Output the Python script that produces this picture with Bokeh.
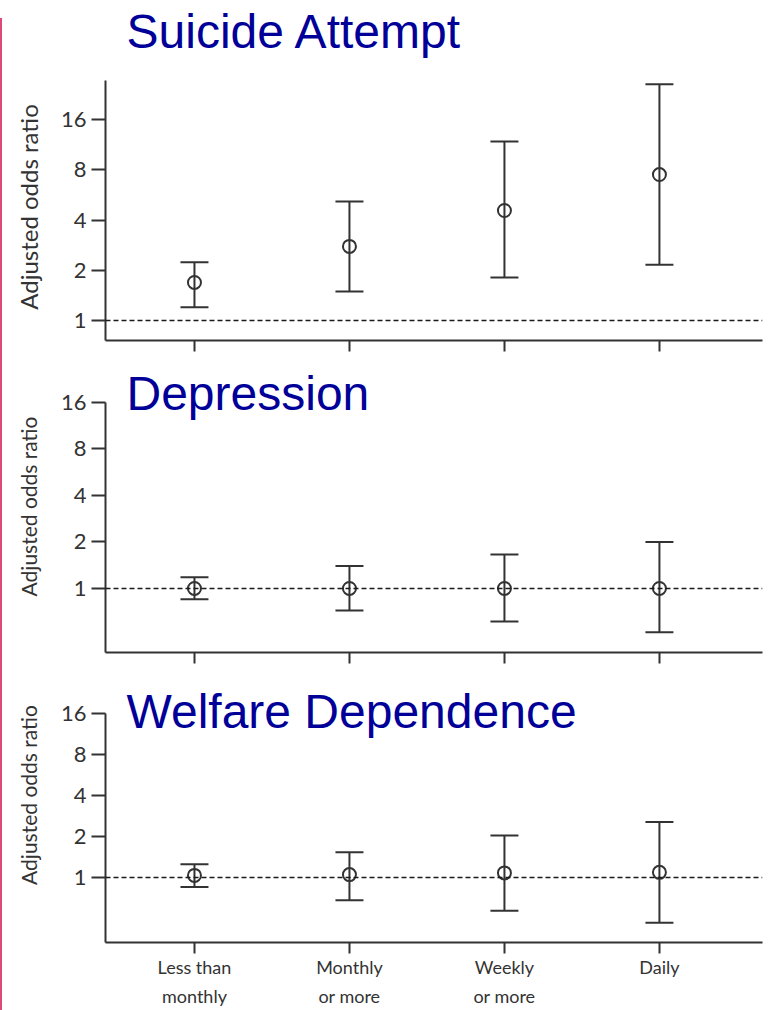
from bokeh.plotting import figure
from bokeh.models import Range1d, FixedTicker, NumeralTickFormatter, Span, Label, Div
from bokeh.layouts import column, row
from bokeh.embed import file_html
from bokeh.resources import INLINE

# ---- data ----
categories = ["Less than\nmonthly", "Monthly\nor more", "Weekly\nor more", "Daily"]
y_ticks = [1, 2, 4, 8, 16]
titles = ["Suicide Attempt", "Depression", "Welfare Dependence"]
y_label = "Adjusted odds ratio"

suicide_or = [1.69, 2.78, 4.56, 7.49]
suicide_lo = [1.20, 1.49, 1.81, 2.16]
suicide_hi = [2.23, 5.16, 11.8, 26.0]

depression_or = [1.0, 1.0, 1.0, 1.0]
depression_lo = [0.85, 0.72, 0.61, 0.52]
depression_hi = [1.18, 1.40, 1.66, 2.0]

welfare_or = [1.035, 1.05, 1.08, 1.09]
welfare_lo = [0.85, 0.68, 0.57, 0.465]
welfare_hi = [1.25, 1.53, 2.03, 2.55]

INK = "#333333"
LABEL_W = 45


def make_label_strip(height, y_center, size):
    s = figure(width=LABEL_W, height=height, x_range=Range1d(0, 1), y_range=Range1d(0, 1),
               output_backend="svg", toolbar_location=None,
               min_border_left=0, min_border_right=0, min_border_top=0, min_border_bottom=0)
    s.axis.visible = False
    s.grid.visible = False
    s.outline_line_color = None
    s.add_layout(Label(x=26, y=y_center, x_units="canvas", y_units="canvas",
                       text=y_label, angle=1.5707963, text_font="Lato",
                       text_font_size=size, text_color="#333333",
                       text_baseline="middle", text_align="center"))
    return s


def make_panel(title, orv, lo, hi, y_start, y_end, axis_top, frame_h, bottom,
               show_labels, title_y):
    p = figure(frame_width=657, frame_height=frame_h, y_axis_type="log",
               x_range=Range1d(-0.574, 3.665), y_range=Range1d(y_start, y_end),
               output_backend="svg", toolbar_location=None,
               min_border_left=103 - LABEL_W, min_border_right=6,
               min_border_top=0, min_border_bottom=bottom)
    p.outline_line_color = None
    p.grid.visible = False
    p.background_fill_color = "white"
    p.border_fill_color = "white"

    xs = list(range(len(categories)))

    # y axis
    ya = p.yaxis[0]
    ya.bounds = (y_start, axis_top)
    ya.ticker = FixedTicker(ticks=y_ticks, minor_ticks=[])
    ya.formatter = NumeralTickFormatter(format="0")
    ya.axis_line_width = 2
    ya.axis_line_color = INK
    ya.major_tick_line_width = 2
    ya.major_tick_line_color = INK
    ya.major_tick_out = 14
    ya.major_tick_in = 0
    ya.minor_tick_line_color = None
    ya.major_label_standoff = 5
    ya.major_label_text_font = "Lato"
    ya.major_label_text_font_size = "22px"
    ya.major_label_text_color = "#333333"

    # x axis
    xa = p.xaxis[0]
    xa.ticker = FixedTicker(ticks=xs, minor_ticks=[])
    xa.axis_line_width = 2
    xa.axis_line_color = INK
    xa.major_tick_line_width = 2
    xa.major_tick_line_color = INK
    xa.major_tick_out = 11
    xa.major_tick_in = 0
    xa.minor_tick_line_color = None
    if show_labels:
        xa.major_label_overrides = {i: c for i, c in enumerate(categories)}
        xa.major_label_text_font = "Lato"
        xa.major_label_text_font_size = "18px"
        xa.major_label_text_color = "#333333"
        xa.major_label_text_line_height = 1.33
        xa.major_label_standoff = 2
    else:
        xa.major_label_overrides = {i: "" for i in xs}
        xa.major_label_text_font_size = "0px"
        xa.major_label_standoff = 0

    # reference line at 1
    p.add_layout(Span(location=1, dimension="width", line_color="#1a1a1a",
                      line_width=1.6, line_dash="5 3"))

    # error bars
    p.segment(x0=xs, y0=lo, x1=xs, y1=hi, line_color=INK, line_width=2)
    p.scatter(x=xs, y=lo, marker="dash", size=28, line_color=INK, line_width=2)
    p.scatter(x=xs, y=hi, marker="dash", size=28, line_color=INK, line_width=2)
    p.scatter(x=xs, y=orv, marker="circle", size=13, line_color=INK,
              line_width=2, fill_color=None)

    # panel title (inside the frame area)
    p.add_layout(Label(x=124 - LABEL_W, y=title_y, x_units="canvas", y_units="canvas",
                       text=title, text_font="Liberation Sans",
                       text_font_size="48px", text_color="#000099",
                       text_baseline="alphabetic", text_align="left"))
    return p


p1 = make_panel(titles[0], suicide_or, suicide_lo, suicide_hi, 0.759, 82.6, 27.4,
                340, 14, False, 31)
p2 = make_panel(titles[1], depression_or, depression_lo, depression_hi, 0.385, 32.7, 16.05,
                298, 14, False, 39)
p3 = make_panel(titles[2], welfare_or, welfare_lo, welfare_hi, 0.333, 35.4, 16.05,
                276, 68, True, 45)

s1 = make_label_strip(354, 206.5, "24px")
s2 = make_label_strip(312, 152, "21px")
s3 = make_label_strip(344, 128.5, "21px")

bar = Div(width=2, height=992, margin=(18, 0, 0, 0),
          styles={"background-color": "#dd4a78"})

layout = row(bar,
             column(row(s1, p1, spacing=0), row(s2, p2, spacing=0),
                    row(s3, p3, spacing=0), spacing=0),
             spacing=0)

open("out.html", "w").write(file_html(layout, INLINE))
